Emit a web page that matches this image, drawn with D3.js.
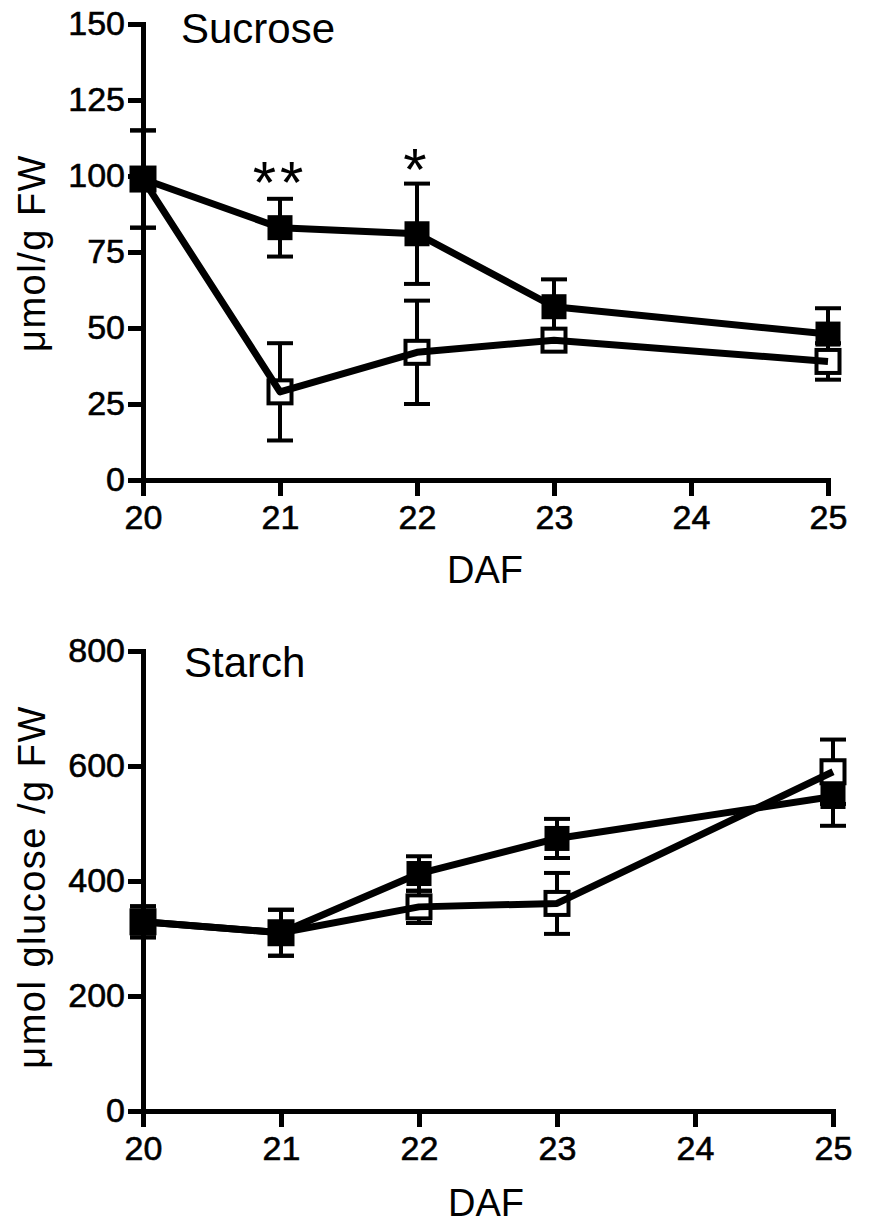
<!DOCTYPE html>
<html><head><meta charset="utf-8">
<script src="https://cdn.jsdelivr.net/npm/d3@7"></script>
<style>
body{margin:0;background:#fff}
svg text{font-family:"Liberation Sans",Arial,Helvetica,sans-serif;fill:#000}
</style>
</head><body>
<svg id="chart" width="892" height="1226"></svg>
<script>
// ---- data ----
const days = [20, 21, 22, 23, 25];
const xTicks = [20, 21, 22, 23, 24, 25];

const sucroseFilled    = [99, 83, 81, 57, 48];
const sucroseFilledErr = [16, 9.5, 16.5, 9, 8.5];
const sucroseOpen      = [99, 29, 42, 46, 39];
const sucroseOpenErr   = [16, 16, 17, 3, 6];
const sucroseTicks     = [0, 25, 50, 75, 100, 125, 150];
const sucroseStars     = [{day: 21, value: 102.5, label: "**"}, {day: 22, value: 107, label: "*"}];

const starchFilled    = [329, 310, 413, 474, 547];
const starchFilledErr = [27, 40, 30, 34, 51];
const starchOpen      = [329, 310, 355, 361, 590];
const starchOpenErr   = [27, 40, 28, 53, 56];
const starchTicks     = [0, 200, 400, 600, 800];
const starchStars     = [];

const svg = d3.select("#chart");

function panel(cfg) {
  const x = d3.scaleLinear().domain([20, 25]).range(cfg.xRange);
  const y = d3.scaleLinear().domain(cfg.yDomain).range(cfg.yRange);
  const g = svg.append("g");

  // axes
  const yAxis = d3.axisLeft(y).tickValues(cfg.yTicks).tickFormat(d3.format("d"))
    .tickSize(15).tickPadding(3).tickSizeOuter(0);
  const ga = g.append("g").attr("transform", `translate(${cfg.xRange[0]},0)`).call(yAxis);
  const xAxis = d3.axisBottom(x).tickValues(xTicks).tickFormat(d3.format("d"))
    .tickSize(16).tickPadding(9).tickSizeOuter(0);
  const gb = g.append("g").attr("transform", `translate(0,${cfg.yRange[0]})`).call(xAxis);
  [ga, gb].forEach(a => {
    a.attr("font-size", null).attr("font-family", null);
    a.select(".domain").attr("stroke", "#000").attr("stroke-width", 5).attr("stroke-linecap", "square");
    a.selectAll(".tick line").attr("stroke", "#000").attr("stroke-width", 5);
    a.selectAll(".tick text").style("font-size", "34px").attr("fill", "#000")
      .attr("stroke", "#000").attr("stroke-width", 0.6);
  });

  const series = [
    {vals: cfg.open, errs: cfg.openErr, filled: false},
    {vals: cfg.filled, errs: cfg.filledErr, filled: true}
  ];
  const pts = s => days.map((d, i) => ({day: d, v: s.vals[i], e: s.errs[i]}));

  // error bars
  series.forEach(s => {
    const eb = g.append("g").attr("stroke", "#000").attr("stroke-width", 4);
    const p = pts(s);
    eb.selectAll(".stem").data(p).join("line")
      .attr("x1", d => x(d.day)).attr("x2", d => x(d.day))
      .attr("y1", d => y(d.v - d.e)).attr("y2", d => y(d.v + d.e));
    eb.selectAll(".capT").data(p).join("line")
      .attr("x1", d => x(d.day) - 13).attr("x2", d => x(d.day) + 13)
      .attr("y1", d => y(d.v + d.e)).attr("y2", d => y(d.v + d.e));
    eb.selectAll(".capB").data(p).join("line")
      .attr("x1", d => x(d.day) - 13).attr("x2", d => x(d.day) + 13)
      .attr("y1", d => y(d.v - d.e)).attr("y2", d => y(d.v - d.e));
  });

  // markers
  series.forEach(s => {
    const sz = s.filled ? 25 : 23;
    g.append("g").selectAll("rect").data(pts(s)).join("rect")
      .attr("x", d => x(d.day) - sz / 2).attr("y", d => y(d.v) - sz / 2)
      .attr("width", sz).attr("height", sz)
      .attr("fill", s.filled ? "#000" : "#fff")
      .attr("stroke", s.filled ? "none" : "#000")
      .attr("stroke-width", 4);
  });

  // lines
  const line = d3.line().x(d => x(d.day)).y(d => y(d.v));
  series.forEach(s => {
    g.append("path").datum(pts(s)).attr("d", line)
      .attr("fill", "none").attr("stroke", "#000").attr("stroke-width", 7)
      .attr("stroke-linejoin", "round");
  });

  // significance stars
  g.selectAll(".star").data(cfg.stars).join("text")
    .attr("x", d => x(d.day)).attr("y", d => y(d.value))
    .attr("dy", "0.58em").attr("text-anchor", "middle")
    .style("font-size", "60px").style("letter-spacing", "4px")
    .text(d => d.label);

  // titles
  g.append("text").attr("x", cfg.titlePos[0]).attr("y", cfg.titlePos[1])
    .style("font-size", "42px").text(cfg.title);
  g.append("text").attr("x", cfg.daf[0]).attr("y", cfg.daf[1]).attr("text-anchor", "middle")
    .style("font-size", "38px").text("DAF");
  g.append("text").attr("transform", `translate(${cfg.yTitlePos[0]},${cfg.yTitlePos[1]}) rotate(-90)`)
    .attr("text-anchor", "middle").style("font-size", "38px").style("letter-spacing", "1.5px")
    .text(cfg.yTitle);
}

panel({
  xRange: [143, 828], yDomain: [0, 150], yRange: [480, 24], yTicks: sucroseTicks,
  filled: sucroseFilled, filledErr: sucroseFilledErr, open: sucroseOpen, openErr: sucroseOpenErr,
  stars: sucroseStars, title: "Sucrose", titlePos: [181, 43], daf: [485, 583],
  yTitle: "μmol/g FW", yTitlePos: [45, 253]
});
panel({
  xRange: [143, 833], yDomain: [0, 800], yRange: [1111, 651], yTicks: starchTicks,
  filled: starchFilled, filledErr: starchFilledErr, open: starchOpen, openErr: starchOpenErr,
  stars: starchStars, title: "Starch", titlePos: [184, 677], daf: [486, 1216],
  yTitle: "μmol glucose /g FW", yTitlePos: [45, 887]
});
</script>
</body></html>
